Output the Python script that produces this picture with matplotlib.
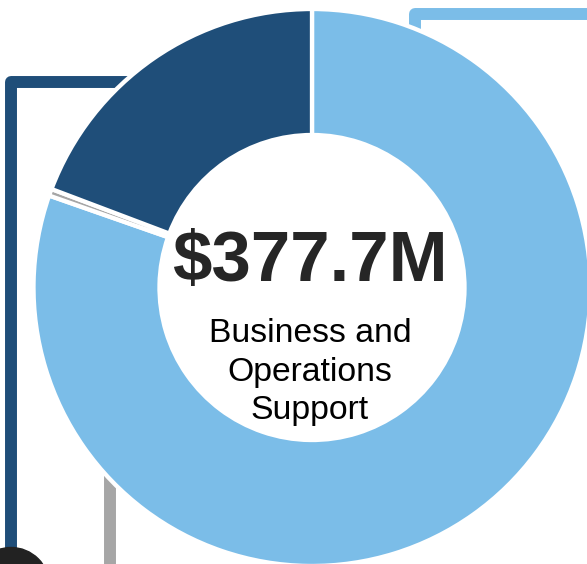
import matplotlib.pyplot as plt

# budget split ($M), drawn clockwise from 12 o'clock
segments = ["Operations", "Other", "Business Support"]
amounts = [303.5, 1.5, 72.7]
colors = ["#7BBDE8", "#A6A6A6", "#1F4E79"]
total_label = "$377.7M"
center_label = "Business and\nOperations\nSupport"

W, H = 587, 564
fig = plt.figure(figsize=(W / 100, H / 100), dpi=100)
ax = fig.add_axes([0, 0, 1, 1])
ax.set_xlim(0, W)
ax.set_ylim(0, H)
ax.set_aspect("equal")
ax.axis("off")


def py(y):
    # pixel row (from top) to axes y
    return H - y


# leader lines sitting behind the ring
lw = 8.6
ax.plot([200, 10.5, 10.5], [py(82), py(82), py(620)], color=colors[2], lw=lw,
        solid_joinstyle="round", solid_capstyle="butt", zorder=1)
ax.plot([415, 415, 640], [py(80), py(14), py(14)], color=colors[0], lw=lw,
        solid_joinstyle="round", solid_capstyle="butt", zorder=1)
ax.plot([110, 110], [py(400), py(620)], color=colors[1], lw=lw,
        solid_capstyle="butt", zorder=1)
ax.add_patch(plt.Circle((11, py(586)), 38.5, color="#222222", zorder=1))

cx, cy, r = 312, py(287.5), 278.5
wedges, _ = ax.pie(amounts, colors=colors, startangle=90, counterclock=False,
                   center=(cx, cy), radius=r, frame=True,
                   wedgeprops=dict(width=126, edgecolor="white", linewidth=3.1))
for w in wedges:
    w.set_zorder(2)
ax.set_xlim(0, W)
ax.set_ylim(0, H)
ax.axis("off")

ax.text(cx - 2, py(263), total_label, ha="center", va="center", fontsize=51,
        fontweight="bold", family="Liberation Sans", color="#262626", zorder=3)
ax.text(cx - 2, py(372), center_label, ha="center", va="center", fontsize=24.3,
        family="Liberation Sans", color="black", linespacing=1.31, zorder=3)

plt.savefig("out.png", dpi=100)
